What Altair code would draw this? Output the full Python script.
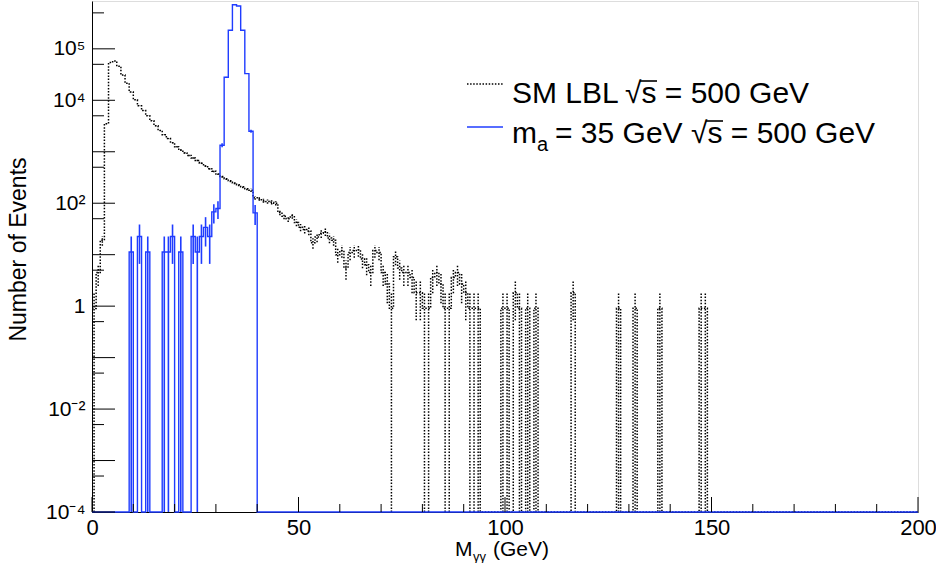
import math
import altair as alt
import pandas as pd

# ---------------- data ----------------
FLOOR = 1e-4          # bottom of the log axis, empty bins are drawn here
YMAX = 8.5e5
NBINS = 200           # 1 GeV bins from 0 to 200 GeV

# SM light-by-light, bins 0..93 GeV (events per 1 GeV bin)
sm_bulk = [0.9, 4.5, 19, 3500, 54000, 58000, 46000, 31000, 21500, 14500,
           10200, 7800, 6300, 5000, 4000, 3200, 2600, 2150, 1800, 1500,
           1250, 1080, 950, 850, 760, 680, 600, 530, 470, 420,
           370, 330, 300, 272, 248, 228, 210, 192, 178, 128,
           122, 112, 108, 104, 100, 66, 56, 50, 57, 42,
           34, 31, 29, 17, 22, 26, 28, 21, 19, 10,
           12, 5.5, 11, 12, 12.5, 8.2, 6.4, 4.5, 12, 11,
           4.5, 2.7, 0.91, 9.1, 5.5, 4.5, 4.5, 3.6, 1.82, 1.82,
           0.91, 0.91, 3.6, 4.5, 2.7, 0.91, 0.91, 3.6, 4.5, 2.7,
           1.82, 0.91, 0.91, 0.91]
sm_tail_bins = [99, 100, 102, 103, 105, 107, 116, 127, 131, 137, 147, 148]
sm_tail_vals = [0.91, 0.91, 1.82, 0.91, 0.91, 0.91, 1.82, 0.91, 0.91, 0.91, 0.91, 0.91]
sm_weight = 0.91      # weight of one SM event

# ALP signal m_a = 35 GeV
sig_bins = [9, 11, 13, 17, 18, 19, 21, 24, 25, 26, 27, 28, 29, 30,
            31, 32, 33, 34, 35, 36, 37, 38, 39]
sig_vals = [11.3, 22.6, 11.3, 11.3, 11.3, 22.6, 11.3, 22.6, 11.3, 22.6, 34, 22.6, 68, 79,
            1340, 28000, 230000, 720000, 680000, 230000, 33000, 2500, 65]
sig_weight = 11.3     # weight of one signal event

x_tick_labels = [0, 50, 100, 150, 200]
y_label_vals = [1e-4, 1e-2, 1, 1e2, 1e4, 1e5]
y_label_text = ["10⁻⁴", "10⁻²", "1", "10²", "10⁴", "10⁵"]

SQRT_S = "√s = 500 GeV"

# ---------------- build tables ----------------
sm_counts = [0.0] * NBINS
for i, v in enumerate(sm_bulk):
    sm_counts[i] = v
for b, v in zip(sm_tail_bins, sm_tail_vals):
    sm_counts[b] = v
sig_counts = [0.0] * NBINS
for b, v in zip(sig_bins, sig_vals):
    sig_counts[b] = v


def step_table(counts, name):
    xs = list(range(NBINS)) + [NBINS]
    ys = [max(c, FLOOR) for c in counts] + [max(counts[-1], FLOOR)]
    return pd.DataFrame({"x": xs, "y": ys, "s": name})


def err_table(counts, w):
    rows = []
    for i, c in enumerate(counts):
        if c > 0:
            e = math.sqrt(c * w)
            rows.append({"x": i + 0.5, "lo": max(c - e, FLOOR), "hi": c + e})
    return pd.DataFrame(rows)


sm_df = step_table(sm_counts, "sm")
sig_df = step_table(sig_counts, "sig")
sm_err = err_table(sm_counts, sm_weight)
sig_err = err_table(sig_counts, sig_weight)

W, H = 826, 511
FONT = "Liberation Sans"
BLUE = "#1f3cff"
DOT = [1.5, 1.6]

xscale = alt.Scale(domain=[0, 200], nice=False, zero=False)
yscale = alt.Scale(type="log", domain=[FLOOR, YMAX], nice=False)

label_expr = " : ".join(
    f"datum.value == {v!r} ? '{t}'" for v, t in zip(y_label_vals, y_label_text)
) + " : ''"

xaxis = alt.Axis(values=x_tick_labels, ticks=False, grid=False, title=None,
                 labelFont=FONT, labelFontSize=22, labelColor="black",
                 labelPadding=5, labelFlush=False, labelOverlap=False,
                 domainColor="black", format="d")
yaxis = alt.Axis(values=y_label_vals, ticks=False, grid=False,
                 title="Number of Events", titleFont=FONT, titleFontSize=23,
                 titleFontWeight="normal", titleColor="black",
                 titleX=-74, titleY=248, titleAlign="center", titleBaseline="middle",
                 labelExpr=label_expr, labelFont=FONT, labelFontSize=21,
                 labelColor="black", labelPadding=7, labelFlush=False,
                 labelOverlap=False, domainColor="black")

X = alt.X("x:Q", scale=xscale, axis=xaxis)
Y = alt.Y("y:Q", scale=yscale, axis=yaxis)

sm_line = alt.Chart(sm_df).mark_line(
    interpolate="step-after", color="black", strokeWidth=1.5, strokeDash=DOT
).encode(x=X, y=Y)

sm_bars = alt.Chart(sm_err).mark_rule(
    color="black", strokeWidth=1.5, strokeDash=DOT
).encode(x=alt.X("x:Q", scale=xscale), y=alt.Y("lo:Q", scale=yscale), y2="hi:Q")

sig_line = alt.Chart(sig_df).mark_line(
    interpolate="step-after", color=BLUE, strokeWidth=1.4
).encode(x=alt.X("x:Q", scale=xscale), y=alt.Y("y:Q", scale=yscale))

sig_bars = alt.Chart(sig_err).mark_rule(color=BLUE, strokeWidth=1.6).encode(
    x=alt.X("x:Q", scale=xscale), y=alt.Y("lo:Q", scale=yscale), y2="hi:Q")

# inward ticks (ROOT style)
xt_major = pd.DataFrame({"v": [0, 50, 100, 150, 200]})
xt_minor = pd.DataFrame({"v": [v for v in range(10, 200, 10) if v % 50]})
yt_major = pd.DataFrame({"v": [10.0 ** k for k in range(-4, 6)]})
yt_minor = pd.DataFrame({"v": [5 * 10.0 ** k for k in range(-4, 6)]})

xt1 = alt.Chart(xt_major).mark_rule(color="black", strokeWidth=1).encode(
    x=alt.X("v:Q", scale=xscale), y=alt.value(H), y2=alt.value(H - 15))
xt2 = alt.Chart(xt_minor).mark_rule(color="black", strokeWidth=1).encode(
    x=alt.X("v:Q", scale=xscale), y=alt.value(H), y2=alt.value(H - 8))
yt1 = alt.Chart(yt_major).mark_rule(color="black", strokeWidth=1).encode(
    y=alt.Y("v:Q", scale=yscale), x=alt.value(0), x2=alt.value(23))
yt2 = alt.Chart(yt_minor).mark_rule(color="black", strokeWidth=1).encode(
    y=alt.Y("v:Q", scale=yscale), x=alt.value(0), x2=alt.value(12))

# legend
leg_df = pd.DataFrame({"k": [0]})


def hline(x1, x2, y, color="black", dash=None, width=1.5):
    kw = dict(color=color, strokeWidth=width)
    if dash:
        kw["strokeDash"] = dash
    return alt.Chart(leg_df).mark_rule(**kw).encode(
        x=alt.value(x1), x2=alt.value(x2), y=alt.value(y))


def txt(s, x, y, size):
    return alt.Chart(leg_df).mark_text(
        text=s, font=FONT, fontSize=size, align="left", baseline="alphabetic",
        color="black"
    ).encode(x=alt.value(x), y=alt.value(y))


leg_sm = hline(375, 411, 83, dash=DOT)
leg_sig = hline(375, 411, 126, color=BLUE, width=1.6)

t1a = txt("SM LBL", 420, 102, 30)
t1b = txt(SQRT_S, 533, 102, 30)
ov1 = hline(548, 565, 80, width=1.6)
t2a = txt("m", 420, 142, 30)
t2b = txt("a", 445, 150, 20)
t2c = txt("= 35 GeV", 463, 142, 30)
t2d = txt(SQRT_S, 599, 142, 30)
ov2 = hline(614, 631, 120, width=1.6)

# x title  M_γγ (GeV)
xt_a = txt("M", 363, 555, 21)
xt_b = txt("γγ", 381, 560, 13)
xt_c = txt("(GeV)", 401, 555, 21)

chart = alt.layer(
    sm_line, sm_bars, sig_line, sig_bars,
    xt1, xt2, yt1, yt2,
    leg_sm, leg_sig, t1a, t1b, ov1, t2a, t2b, t2c, t2d, ov2, xt_a, xt_b, xt_c
).properties(
    width=W, height=H,
    autosize=alt.AutoSizeParams(type="none"),
    padding={"left": 92, "top": 1, "right": 18, "bottom": 51},
).configure_view(stroke="black", strokeWidth=1).configure(background="white")

chart.save("out.html", embed_options={"renderer": "svg", "actions": False})
